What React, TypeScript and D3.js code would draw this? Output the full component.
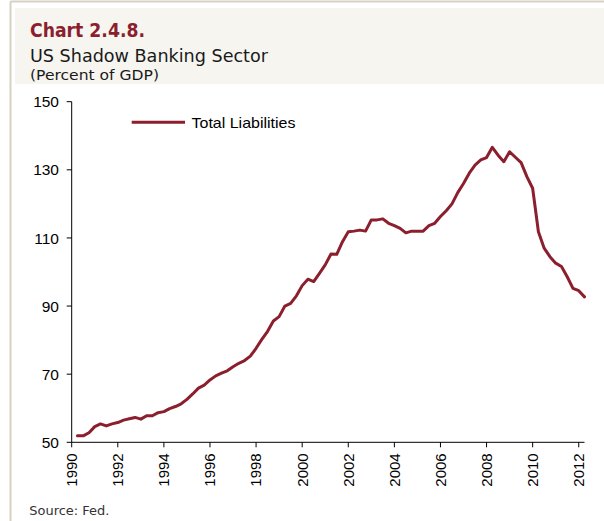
import React from "react";
import * as d3 from "d3";

const startYear = 1990.25;
const quarterStep = 0.25;
const totalLiabilities: number[] = [
  51.9, 51.9, 52.8,
  54.6, 55.4, 54.8, 55.4,
  55.8, 56.5, 56.9, 57.3,
  56.8, 57.8, 57.8, 58.7,
  59.0, 59.9, 60.5, 61.3,
  62.6, 64.2, 65.9, 66.8,
  68.3, 69.5, 70.3, 71.0,
  72.2, 73.2, 74.0, 75.3,
  77.6, 80.2, 82.6, 85.6,
  86.9, 90.0, 90.8, 93.0,
  96.0, 97.9, 97.2, 99.6,
  102.1, 105.3, 105.2, 108.9,
  111.8, 112.0, 112.3, 112.0,
  115.3, 115.3, 115.6, 114.3,
  113.6, 112.8, 111.5, 112.0,
  112.0, 112.0, 113.6, 114.3,
  116.3, 118.0, 120.0, 123.3,
  126.0, 129.0, 131.4, 132.9,
  133.6, 136.6, 134.3, 132.4,
  135.3, 133.7, 132.1, 128.0,
  124.6, 111.8, 107.0, 104.5,
  102.6, 101.6, 98.6, 95.2,
  94.5, 92.7,
];
const xTickYears: number[] = [1990, 1992, 1994, 1996, 1998, 2000, 2002, 2004, 2006, 2008, 2010, 2012];
const yTickValues: number[] = [50, 70, 90, 110, 130, 150];
const seriesName = "Total Liabilities";

const W = 604;
const H = 521;
const LINE = "#8b1f2e";
const AXIS_FONT = "'Liberation Sans', Arial, sans-serif";
const TITLE_FONT = "'DejaVu Sans', sans-serif";

export default function App() {
  const x = d3.scaleLinear().domain([1990, 2012.25]).range([71.7, 584.5]);
  const y = d3.scaleLinear().domain([50, 150]).range([442.3, 101.7]);
  const pts: [number, number][] = totalLiabilities.map((v, i) => [startYear + i * quarterStep, v]);
  const line = d3
    .line<[number, number]>()
    .x((d) => x(d[0]))
    .y((d) => y(d[1]));
  const x0 = x.range()[0];
  const y0 = y.range()[0];

  return (
    <svg
      width={W}
      height={H}
      style={{ position: "absolute", left: 0, top: 0, background: "#fff" }}
    >
      {/* frame */}
      <line x1={10.5} y1={1.5} x2={W} y2={1.5} stroke="#d8d1c3" strokeWidth={2} />
      <line x1={10.5} y1={1.5} x2={10.5} y2={H} stroke="#d8d1c3" strokeWidth={2} />
      <rect x={15} y={8} width={W - 15} height={76} fill="#f7f5f0" />

      {/* titles */}
      <text x={30} y={36.5} fill={LINE} fontFamily={TITLE_FONT} fontWeight="bold" fontSize={19} textLength={115} lengthAdjust="spacingAndGlyphs">
        Chart 2.4.8.
      </text>
      <text x={30} y={61.5} fill="#1a1a1a" fontFamily={TITLE_FONT} fontSize={17.5} textLength={238} lengthAdjust="spacingAndGlyphs">
        US Shadow Banking Sector
      </text>
      <text x={30} y={79.5} fill="#1a1a1a" fontFamily={TITLE_FONT} fontSize={14.5} textLength={129} lengthAdjust="spacingAndGlyphs">
        (Percent of GDP)
      </text>

      {/* y axis */}
      <line x1={x0} y1={y(150)} x2={x0} y2={y0} stroke="#000" strokeWidth={1} />
      {yTickValues.map((v) => (
        <g key={v}>
          <line x1={x0 - 5} x2={x0} y1={y(v)} y2={y(v)} stroke="#000" strokeWidth={1} />
          <text x={59} y={y(v)} dy="0.36em" textAnchor="end" fontFamily={AXIS_FONT} fontSize={15.5} fill="#000">
            {v}
          </text>
        </g>
      ))}

      {/* x axis */}
      <line x1={x0} y1={y0} x2={x.range()[1]} y2={y0} stroke="#000" strokeWidth={1} />
      {xTickYears.map((yr) => (
        <g key={yr}>
          <line x1={x(yr)} x2={x(yr)} y1={y0} y2={y0 + 5} stroke="#000" strokeWidth={1} />
          <text
            transform={`translate(${x(yr)},${y0 + 11}) rotate(-90)`}
            textAnchor="end"
            dy="0.36em"
            fontFamily={AXIS_FONT}
            fontSize={15}
            fill="#000"
          >
            {yr}
          </text>
        </g>
      ))}

      {/* series */}
      <path d={line(pts) || ""} fill="none" stroke={LINE} strokeWidth={3} strokeLinejoin="round" strokeLinecap="round" />

      {/* legend */}
      <line x1={131.7} x2={185} y1={122.3} y2={122.3} stroke={LINE} strokeWidth={3} />
      <text x={191.5} y={127.5} fontFamily={AXIS_FONT} fontSize={15} fill="#000" textLength={104} lengthAdjust="spacingAndGlyphs">
        {seriesName}
      </text>

      {/* source */}
      <text x={29.3} y={515} fontFamily={TITLE_FONT} fontSize={12} fill="#333" textLength={80} lengthAdjust="spacingAndGlyphs">
        Source: Fed.
      </text>
    </svg>
  );
}
